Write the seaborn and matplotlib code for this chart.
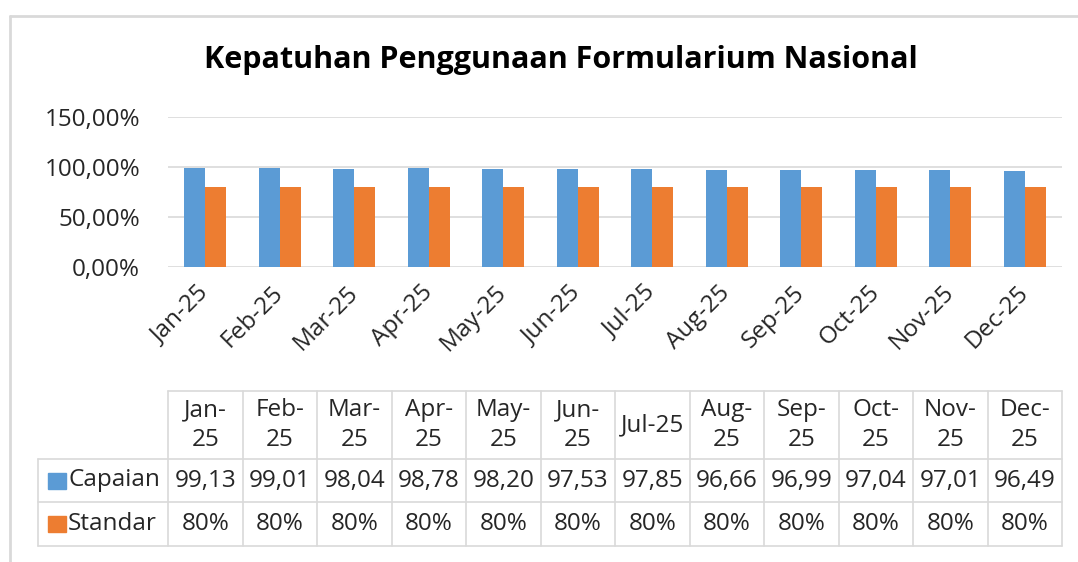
import matplotlib
matplotlib.use("Agg")
import matplotlib.pyplot as plt
import seaborn as sns
import pandas as pd
from matplotlib.lines import Line2D
from matplotlib.patches import Rectangle
from matplotlib.ticker import FuncFormatter

# ------------------------------------------------------------
# Data
# ------------------------------------------------------------
months = ["Jan-25", "Feb-25", "Mar-25", "Apr-25", "May-25", "Jun-25",
          "Jul-25", "Aug-25", "Sep-25", "Oct-25", "Nov-25", "Dec-25"]
header_labels = ["Jan-\n25", "Feb-\n25", "Mar-\n25", "Apr-\n25", "May-\n25", "Jun-\n25",
                 "Jul-25", "Aug-\n25", "Sep-\n25", "Oct-\n25", "Nov-\n25", "Dec-\n25"]
capaian = [99.13, 99.01, 98.04, 98.78, 98.20, 97.53,
           97.85, 96.66, 96.99, 97.04, 97.01, 96.49]
standar = [80] * 12
series_names = ["Capaian", "Standar"]
colors = ["#5B9BD5", "#ED7D31"]

title = "Kepatuhan Penggunaan Formularium Nasional"

# ------------------------------------------------------------
# Style
# ------------------------------------------------------------
sns.set_theme(style="white")
plt.rcParams["font.family"] = ["Open Sans", "DejaVu Sans"]
GRID = "#D9D9D9"
TEXT = "#262626"

W, H = 1078, 562
fig = plt.figure(figsize=(W / 100, H / 100), dpi=100)
fig.patch.set_facecolor("white")


def fx(px):
    return px / W


def fy(py):
    return 1 - py / H


# outer chart border
fig.add_artist(Line2D([fx(10), fx(1078)], [fy(16), fy(16)], color=GRID, lw=2))
fig.add_artist(Line2D([fx(10), fx(10)], [fy(16), fy(562)], color=GRID, lw=2))

# ------------------------------------------------------------
# Bar chart
# ------------------------------------------------------------
left, right, top, bottom = 168, 1062, 117, 267
ax = fig.add_axes([fx(left), fy(bottom), fx(right - left), (bottom - top) / H])

df = pd.DataFrame({
    "Bulan": months * 2,
    "Nilai": capaian + standar,
    "Seri": [series_names[0]] * 12 + [series_names[1]] * 12,
})

sns.barplot(
    data=df, x="Bulan", y="Nilai", hue="Seri",
    palette=colors, width=0.565, gap=0, ax=ax,
    saturation=1, linewidth=0, legend=False,
)

ax.set_xlim(-0.5, len(months) - 0.5)
ax.set_ylim(0, 150)
ax.set_yticks([0, 50, 100, 150])
ax.yaxis.set_major_formatter(FuncFormatter(lambda v, p: f"{v:.2f}%".replace(".", ",")))
ax.grid(axis="y", color=GRID, lw=1.2)
ax.set_axisbelow(True)
for s in ax.spines.values():
    s.set_visible(False)
ax.set_xlabel("")
ax.set_ylabel("")
ax.tick_params(axis="y", length=0, pad=20, labelsize=17.5, labelcolor=TEXT)
ax.tick_params(axis="x", length=0, pad=16, labelsize=17.5, labelcolor=TEXT)
ax.set_xticks(range(len(months)))
ax.set_xticklabels(months, rotation=45, ha="right", va="center", rotation_mode="anchor")

fig.text(fx(561), fy(60), title, ha="center", va="center",
         fontsize=22, fontweight="bold", color="black")

# ------------------------------------------------------------
# Data table below chart
# ------------------------------------------------------------
fig.canvas.draw()
col_centers = [ax.transData.transform((i, 0))[0] for i in range(len(months))]
unit = col_centers[1] - col_centers[0]
col_edges = [c - unit / 2 for c in col_centers] + [col_centers[-1] + unit / 2]

t_left = 38
r_top, r1, r2, r_bot = 391, 459, 502, 546

line_kw = dict(color=GRID, lw=1.2)
# horizontal lines
fig.add_artist(Line2D([fx(col_edges[0]), fx(col_edges[-1])], [fy(r_top)] * 2, **line_kw))
for yy in (r1, r2, r_bot):
    fig.add_artist(Line2D([fx(t_left), fx(col_edges[-1])], [fy(yy)] * 2, **line_kw))
# vertical lines
for xx in col_edges:
    fig.add_artist(Line2D([fx(xx)] * 2, [fy(r_top), fy(r_bot)], **line_kw))
fig.add_artist(Line2D([fx(t_left)] * 2, [fy(r1), fy(r_bot)], **line_kw))

cell_fs = 17.5
for i, lab in enumerate(header_labels):
    fig.text(fx(col_centers[i]), fy((r_top + r1) / 2), lab, ha="center", va="center",
             fontsize=cell_fs, color=TEXT, linespacing=1.3)

rows = [
    [f"{v:.2f}".replace(".", ",") for v in capaian],
    [f"{v}%" for v in standar],
]
for r, (y0, y1) in enumerate([(r1, r2), (r2, r_bot)]):
    yc = fy((y0 + y1) / 2)
    for i, val in enumerate(rows[r]):
        fig.text(fx(col_centers[i]), yc, val, ha="center", va="center",
                 fontsize=cell_fs, color=TEXT)
    # legend key + series name
    fig.add_artist(Rectangle((fx(48), fy((y0 + y1) / 2 + 8)), 18 / W, 16 / H,
                             color=colors[r], transform=fig.transFigure))
    fig.text(fx(68), yc, series_names[r], ha="left", va="center",
             fontsize=cell_fs, color=TEXT)

fig.savefig("out.png", dpi=100, facecolor="white")
